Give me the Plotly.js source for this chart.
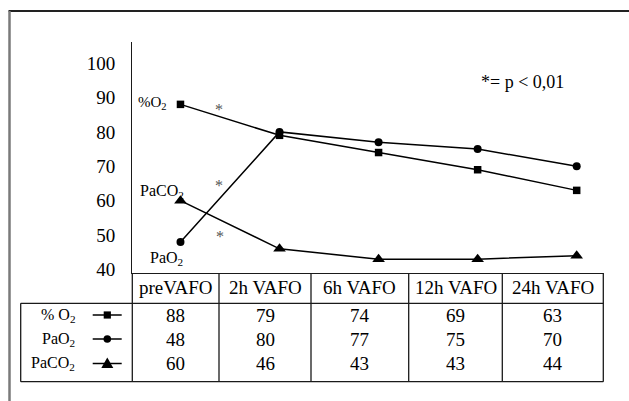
<!DOCTYPE html>
<html><head><meta charset="utf-8">
<script src="https://cdn.plot.ly/plotly-3.0.1.min.js"></script>
<style>html,body{margin:0;padding:0;background:#fff}#chart{width:629px;height:401px}</style>
</head><body><div id="chart"></div>
<script>
// ---- data ----
const categories = ['preVAFO', '2h VAFO', '6h VAFO', '12h VAFO', '24h VAFO'];
const pctO2 = [88, 79, 74, 69, 63];
const paO2 = [48, 80, 77, 75, 70];
const paCO2 = [60, 46, 43, 43, 44];
const yTickVals = [40, 50, 60, 70, 80, 90, 100];
const rowLabels = ['% O<sub>2</sub>', 'PaO<sub>2</sub>', 'PaCO<sub>2</sub>'];
const plotLabels = ['%O<sub>2</sub>', 'PaO<sub>2</sub>', 'PaCO<sub>2</sub>'];
const noteText = '*= p < 0,01';
const starText = '*';

// ---- layout geometry (page pixels) ----
const W = 629, H = 401;
const L = 132.3, R = 603.3, T = 42, B = 273;
const px = x => x / W;
const py = y => 1 - y / H;
const colEdges = [132.3, 219, 311, 408.7, 502.3, 603.3];
const headerY = 287.5;
const rowY = [315, 339, 363.5];
const tableTop = 303.3, tableBottom = 381.7, tableLeft = 20.7;
const FONT = 'Liberation Serif';
const lineCol = '#1a1a1a';

const seriesList = [pctO2, paO2, paCO2];
const symbols = ['square', 'circle', 'triangle-up'];
const sizes = [7.5, 8, 11];

const traces = seriesList.map((s, k) => ({
  type: 'scatter', mode: 'lines+markers', x: categories, y: s,
  line: {color: '#000', width: 1.5},
  marker: {symbol: symbols[k], size: sizes[k], color: '#000'},
  cliponaxis: false, hoverinfo: 'skip', showlegend: false
}));

const shapes = [];
function hline(x0, x1, y, col, w) { shapes.push({type:'line', xref:'paper', yref:'paper', x0:px(x0), x1:px(x1), y0:py(y), y1:py(y), line:{color:col, width:w}}); }
function vline(x, y0, y1, col, w) { shapes.push({type:'line', xref:'paper', yref:'paper', x0:px(x), x1:px(x), y0:py(y0), y1:py(y1), line:{color:col, width:w}}); }

// outer frame
hline(8.5, 629, 11, '#222', 2);
vline(9.5, 11, 401, '#7a7a7a', 2.5);
// table
vline(L, B, tableBottom, lineCol, 1.3);
vline(R, B, tableBottom, lineCol, 1.3);
for (let i = 1; i < colEdges.length - 1; i++) vline(colEdges[i], B, tableBottom, lineCol, 1.3);
hline(tableLeft, R, tableTop, lineCol, 1.3);
hline(tableLeft, R, tableBottom, lineCol, 1.3);
vline(tableLeft, tableTop, tableBottom, lineCol, 1.3);

// legend keys in table
const keyX0 = 92.7, keyX1 = 121.7, keyC = 107.3;
rowY.forEach((y, k) => {
  hline(keyX0, keyX1, y, '#000', 1.5);
  if (k === 0) {
    shapes.push({type:'rect', xref:'paper', yref:'paper', x0:px(keyC-3.6), x1:px(keyC+3.6), y0:py(y+3.6), y1:py(y-3.6), fillcolor:'#000', line:{width:0}});
  } else if (k === 1) {
    shapes.push({type:'circle', xref:'paper', yref:'paper', x0:px(keyC-3.8), x1:px(keyC+3.8), y0:py(y+3.8), y1:py(y-3.8), fillcolor:'#000', line:{width:0}});
  } else {
    const p = (a, b) => px(a) + ',' + py(b);
    shapes.push({type:'path', xref:'paper', yref:'paper', path:'M' + p(keyC, y-6) + ' L' + p(keyC-6, y+4.5) + ' L' + p(keyC+6, y+4.5) + ' Z', fillcolor:'#000', line:{width:0}});
  }
});

const annotations = [];
function ann(text, x, y, size, xanchor, color) {
  annotations.push({text: text, xref:'paper', yref:'paper', x: px(x), y: py(y), xanchor: xanchor || 'center', yanchor:'middle', showarrow:false, font:{family:FONT, size:size, color: color || '#000'}});
}
// header row
categories.forEach((c, i) => ann(c, (colEdges[i] + colEdges[i+1]) / 2, headerY, 19));
// data rows
seriesList.forEach((s, k) => {
  s.forEach((v, i) => ann(String(v), (colEdges[i] + colEdges[i+1]) / 2, rowY[k], 19));
  ann(rowLabels[k], 77, rowY[k], 16, 'right');
});
// in-plot labels
ann(plotLabels[0], 169, 103, 15, 'right');
ann(plotLabels[2], 186, 191, 16, 'right');
ann(plotLabels[1], 185, 258, 16, 'right');
// significance stars
ann(starText, 218.5, 109, 16, 'center', '#555555');
ann(starText, 219, 185, 16, 'center', '#555555');
ann(starText, 219.5, 236, 16, 'center', '#555555');
ann(noteText, 522, 82, 18);

const layout = {
  width: W, height: H,
  margin: {l: 0, r: 0, t: 0, b: 0},
  font: {family: FONT, color: '#000'},
  paper_bgcolor: '#fff', plot_bgcolor: 'rgba(0,0,0,0)',
  xaxis: {type:'category', categoryarray: categories, range: [-0.4864, 4.2686],
    domain: [px(L), px(R)], showline: true, linecolor: lineCol, linewidth: 1.3,
    showgrid: false, zeroline: false, showticklabels: false, ticks: ''},
  yaxis: {range: [38.98, 106.13], domain: [py(B), py(T)], showline: true, linecolor: lineCol, linewidth: 1.3,
    showgrid: false, zeroline: false, tickvals: yTickVals, ticks: '', ticklabelstandoff: 12,
    tickfont: {family: FONT, size: 19, color: '#000'}},
  shapes: shapes, annotations: annotations
};
Plotly.newPlot('chart', traces, layout, {staticPlot: true, displayModeBar: false});
</script></body></html>
